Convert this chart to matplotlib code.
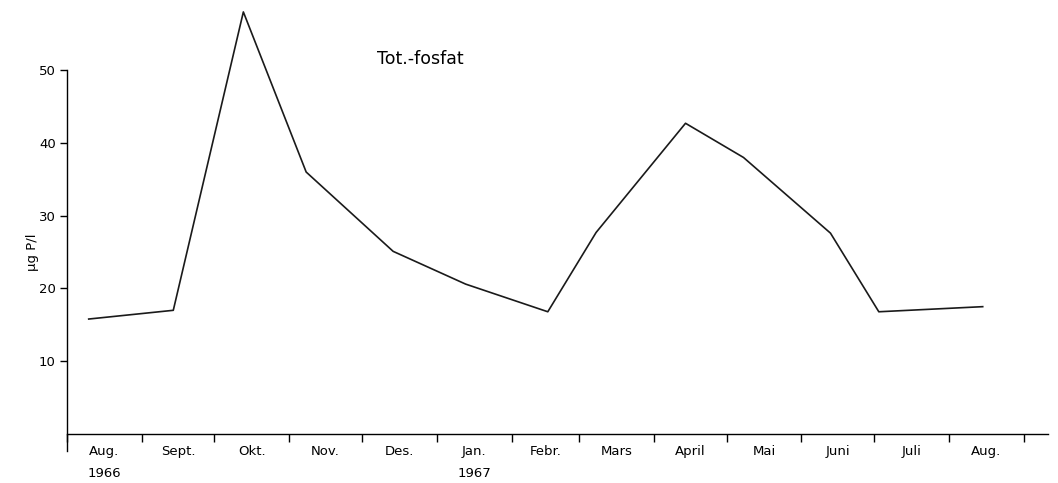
import matplotlib
matplotlib.use("Agg")
import matplotlib.pyplot as plt
import matplotlib.dates as mdates
from datetime import datetime

sample_dates = ["10/08/1966", "14/09/1966", "13/10/1966", "08/11/1966", "14/12/1966",
                "13/01/1967", "16/02/1967", "08/03/1967", "14/04/1967", "08/05/1967",
                "13/06/1967", "03/07/1967", "15/08/1967"]
tot_fosfat = [15.8, 17.0, 58.0, 36.0, 25.1, 20.6, 16.8, 27.7, 42.7, 38.0, 27.6, 16.8, 17.5]

# Limites des mois et étiquettes de l'axe x
month_starts = ["01/08/1966", "01/09/1966", "01/10/1966", "01/11/1966", "01/12/1966",
                "01/01/1967", "01/02/1967", "01/03/1967", "01/04/1967", "01/05/1967",
                "01/06/1967", "01/07/1967", "01/08/1967", "01/09/1967"]
month_labels = ["Aug.\n1966", "Sept.", "Okt.", "Nov.", "Des.", "Jan.\n1967", "Febr.",
                "Mars", "April", "Mai", "Juni", "Juli", "Aug."]
y_ticks = [10, 20, 30, 40, 50]
x_end = "11/09/1967"

to_num = lambda s: mdates.date2num(datetime.strptime(s, "%d/%m/%Y"))
x = [to_num(d) for d in sample_dates]
bounds = [to_num(d) for d in month_starts]
mids = [(a + b) / 2 for a, b in zip(bounds[:-1], bounds[1:])]

plt.rcParams["font.family"] = "DejaVu Sans"

fig = plt.figure(figsize=(10.58, 4.83), dpi=100)
ax = fig.add_axes([0.0633, 0.1014, 0.9272, 0.8965])

ax.plot(x, tot_fosfat, color="#1a1a1a", linewidth=1.2)

ax.set_xlim(bounds[0], to_num(x_end))
ax.set_ylim(0, 59.5)

for side in ["top", "right"]:
    ax.spines[side].set_visible(False)
# l'axe vertical descend un peu sous l'axe des mois
ax.spines["left"].set_bounds(-2.4, 50)
ax.spines["left"].set_linewidth(1.0)
ax.spines["bottom"].set_linewidth(1.0)

ax.set_yticks(y_ticks)
ax.set_yticklabels([str(v) for v in y_ticks], fontsize=9.5)
ax.tick_params(axis="y", direction="out", length=5, width=1.0, pad=3)

# graduations aux limites des mois, étiquettes au milieu
ax.set_xticks(bounds, minor=True)
ax.set_xticks(mids)
ax.set_xticklabels(month_labels, fontsize=9.5, linespacing=1.85, va="top")
ax.tick_params(axis="x", which="major", length=0, pad=8)
ax.tick_params(axis="x", which="minor", direction="out", length=6, width=1.0)

ax.set_ylabel("µg P/l", fontsize=9.5)
ax.yaxis.set_label_coords(-0.029, 25 / 59.5)

ax.text(0.36, 0.866, "Tot.-fosfat", transform=ax.transAxes, fontsize=12.5,
        ha="center", va="center")

fig.savefig("out.png", dpi=100)
